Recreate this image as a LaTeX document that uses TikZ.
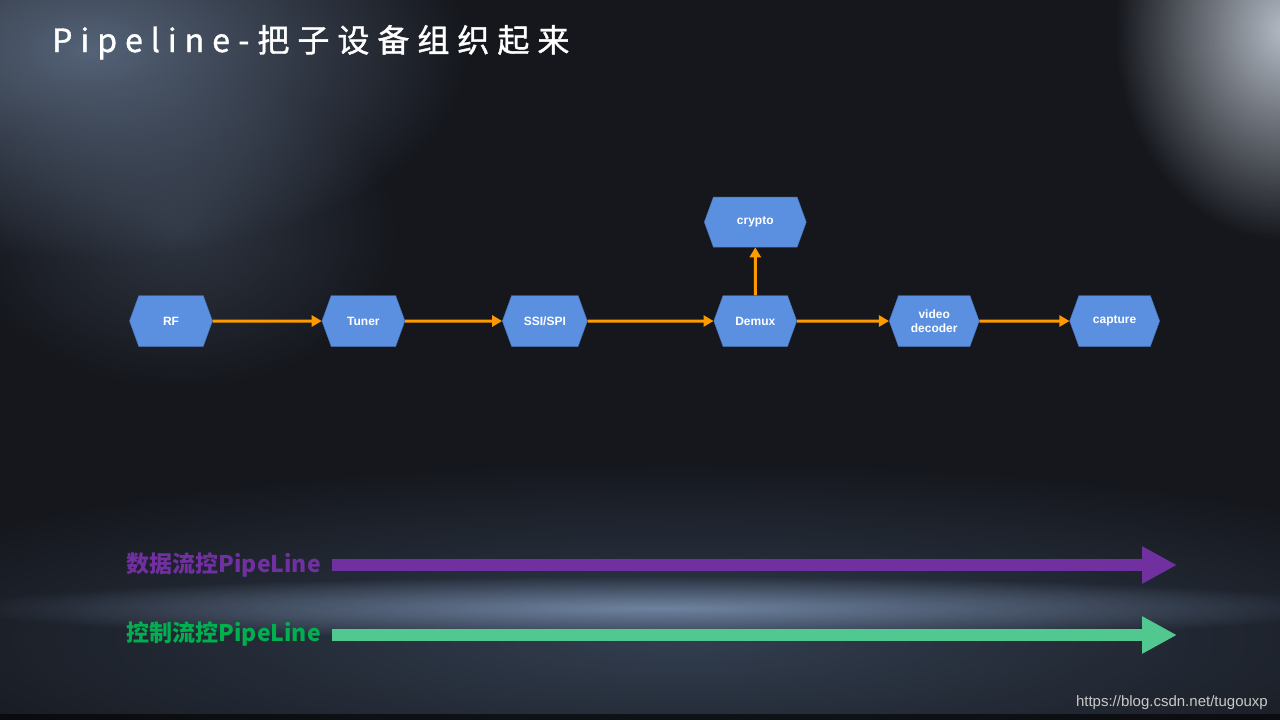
\documentclass[tikz,border=0pt]{standalone}
\usepackage{fontspec}
\setmainfont{Liberation Sans}
\newfontfamily\cjk{Noto Sans CJK SC}
\newfontfamily\cjktitle[LetterSpace=25,FakeBold=1.2]{Noto Sans CJK SC}
\usepackage{tikz}
\usetikzlibrary{shapes.symbols,arrows.meta,positioning,fadings}
\definecolor{bgdark}{HTML}{15171D}
\definecolor{glow}{HTML}{6A7C96}
\definecolor{glowhi}{HTML}{D0D8E2}
\definecolor{floor}{HTML}{3C4B60}
\definecolor{band}{HTML}{8AA2C6}
\definecolor{boxblue}{HTML}{5B8FE0}
\definecolor{boxline}{HTML}{4672B8}
\definecolor{flow}{HTML}{FF9900}
\definecolor{datapurple}{HTML}{7030A0}
\definecolor{ctrlgreen}{HTML}{00B050}
\definecolor{ctrlarrow}{HTML}{50C890}
\definecolor{urlgray}{HTML}{C8C8C8}
\tikzfading[name=softglow, inner color=transparent!0, outer color=transparent!100]
\tikzset{
  dev/.style     = {signal, signal to=east and west, signal pointer angle=140,
                    draw=boxline, fill=boxblue, text=white,
                    font=\fontsize{12}{14}\selectfont\bfseries,
                    minimum width=83pt, minimum height=51pt,
                    inner sep=0pt, align=center},
  devW/.style    = {dev, minimum width=90pt},
  flowarr/.style = {-{Triangle[length=10pt,width=11pt]}, draw=flow, line width=3pt},
  pipearr/.style = {-{Triangle[length=35pt,width=35pt]}, line width=12pt},
  pipelbl/.style = {font=\cjk\bfseries\fontsize{23}{26}\selectfont,
                    anchor=east, inner sep=0pt},
  glowfill/.style= {path fading=softglow, fit fading=true}
}
\begin{document}
\begin{tikzpicture}[x=1pt,y=-1pt]
% background
\fill[bgdark] (0,0) rectangle (1280,720);
\useasboundingbox (0,0) rectangle (1280,720);
\fill[glow, glowfill, opacity=0.75] (90,50) ellipse [x radius=380, y radius=210];
\fill[glow, glowfill, opacity=0.3] (180,230) ellipse [x radius=220, y radius=160];
\fill[glowhi, glowfill, opacity=0.85] (1285,30) ellipse [x radius=170, y radius=210];
\fill[floor, glowfill, opacity=0.75] (680,640) ellipse [x radius=900, y radius=180];
\fill[band, glowfill, opacity=0.7] (660,608) ellipse [x radius=700, y radius=32];
\fill[black, opacity=0.6] (0,714) rectangle (1280,720);
% title
\node[anchor=base west, text=white, inner sep=0pt,
      font=\cjktitle\fontsize{32}{36}\selectfont] (title) at (52,52)
      {Pipeline-把子设备组织起来};
% devices
\node[dev] (rf) at (171,321) {RF};
\node[dev,  right=109pt of rf]    (tuner)   {Tuner};
\node[dev,  right=97pt of tuner, minimum width=85pt] (ssi) {SSI/SPI};
\node[dev,  right=126pt of ssi]   (demux)   {Demux};
\node[dev,  above=48pt of demux, minimum width=102pt, minimum height=50pt] (crypto) {crypto};
\node[devW, right=92pt of demux]  (vdec)    {video\\decoder};
\node[devW, right=90pt of vdec]   (capture) {capture};
\draw[flowarr] (rf)    -- (tuner);
\draw[flowarr] (tuner) -- (ssi);
\draw[flowarr] (ssi)   -- (demux);
\draw[flowarr] (demux) -- (crypto);
\draw[flowarr] (demux) -- (vdec);
\draw[flowarr] (vdec)  -- (capture);
% pipelines
\node[pipelbl, text=datapurple] (datalbl) at (321,565) {数据流控PipeLine};
\node[pipelbl, text=ctrlgreen]  (ctrllbl) at (321,634) {控制流控PipeLine};
\coordinate (dataend) at (1177,565);
\coordinate (ctrlend) at (1177,635);
\draw[pipearr, datapurple, shorten <=11pt] (datalbl.east) -- (dataend);
\draw[pipearr, ctrlarrow,  shorten <=11pt] (ctrllbl.east |- ctrlend) -- (ctrlend);
% source
\node[anchor=base east, text=urlgray, inner sep=0pt,
      font=\fontsize{15}{18}\selectfont] (url) at (1268,706)
      {https://blog.csdn.net/tugouxp};
\end{tikzpicture}
\end{document}
